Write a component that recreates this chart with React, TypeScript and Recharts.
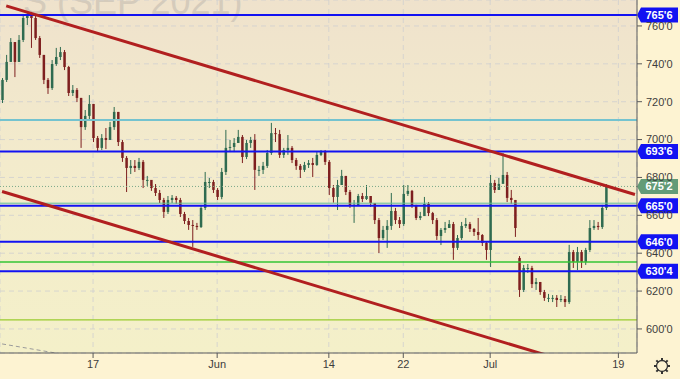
import React from "react";
import { ComposedChart, Bar, Line, XAxis, YAxis, CartesianGrid, ReferenceLine } from "recharts";

// ---- candle data (price in cents, one candle ≈ 1/3 trading day) ----
const OPEN = [
  720.9, 731.5, 741.0, 751.5, 741.0, 752.6, 764.2, 765.3, 764.2, 753.6,
  744.7, 731.5, 727.2, 739.9, 743.6, 746.2, 738.3, 724.6, 726.2, 722.0,
  706.6, 712.5, 718.8, 700.8, 695.6, 700.8, 699.8, 706.6, 714.6, 698.7,
  690.3, 685.0, 686.1, 685.0, 688.2, 678.7, 678.7, 674.4, 671.8, 668.1,
  661.8, 668.1, 669.2, 668.1, 660.7, 657.0, 654.9, 654.4, 653.8, 663.9,
  677.6, 677.6, 673.4, 669.7, 682.9, 695.6, 696.1, 698.2, 701.4, 690.8,
  698.2, 699.8, 684.0, 684.0, 686.1, 692.9, 703.4, 702.9, 691.9, 694.5,
  695.6, 689.2, 686.1, 684.0, 686.6, 687.6, 686.6, 691.9, 693.4, 688.2,
  674.4, 669.7, 676.0, 680.8, 672.3, 665.5, 665.5, 670.2, 668.6, 670.2,
  666.5, 657.5, 648.0, 652.3, 654.4, 662.3, 657.5, 655.4, 671.3, 672.9,
  665.5, 658.6, 659.6, 666.0, 661.2, 657.5, 649.1, 652.3, 653.3, 655.4,
  642.8, 648.0, 654.4, 655.4, 652.8, 651.2, 649.6, 645.4, 641.7, 677.1,
  673.4, 676.6, 681.3, 669.2, 668.1, 637.5, 620.6, 632.2, 632.2, 623.7,
  624.8, 619.5, 616.4, 616.4, 616.4, 615.3, 615.8, 614.2, 640.6, 635.4,
  640.6, 635.4, 641.7, 653.3, 654.4, 653.8, 663.9,
];
const HIGH = [
  732.5, 744.7, 753.6, 751.5, 755.2, 765.8, 767.4, 767.4, 766.3, 754.7,
  744.7, 732.5, 742.0, 748.4, 748.9, 747.3, 738.9, 728.8, 727.2, 722.0,
  715.6, 723.5, 718.8, 701.9, 702.9, 706.1, 709.3, 717.2, 714.6, 699.8,
  691.3, 689.2, 689.2, 690.3, 689.2, 680.8, 677.6, 676.5, 673.4, 669.2,
  670.2, 670.7, 670.2, 669.2, 661.8, 658.6, 657.5, 656.0, 665.5, 682.9,
  679.7, 678.7, 674.4, 685.0, 705.1, 699.8, 700.8, 705.1, 702.4, 699.8,
  701.4, 702.9, 686.1, 688.2, 694.5, 708.8, 706.1, 705.1, 695.6, 702.4,
  696.6, 690.3, 687.1, 688.2, 689.2, 690.3, 693.4, 694.5, 694.5, 689.2,
  676.0, 678.7, 684.0, 680.8, 673.4, 668.1, 671.3, 671.8, 676.0, 670.2,
  666.5, 658.6, 654.4, 657.5, 671.8, 663.9, 659.1, 676.0, 676.0, 673.4,
  665.5, 661.8, 669.7, 667.0, 661.8, 658.6, 653.3, 656.5, 657.5, 656.5,
  649.6, 656.5, 658.6, 656.5, 653.3, 658.6, 650.1, 645.9, 681.3, 678.7,
  679.7, 692.9, 682.9, 673.4, 668.1, 638.5, 633.8, 634.3, 633.3, 626.9,
  624.8, 620.6, 618.5, 617.9, 617.9, 617.9, 617.4, 644.4, 641.7, 643.3,
  641.7, 642.8, 657.5, 657.5, 656.5, 665.5, 676.5,
];
const LOW = [
  719.3, 730.4, 741.0, 733.0, 741.0, 751.5, 760.5, 748.4, 752.6, 743.1,
  729.3, 724.1, 726.2, 738.9, 742.0, 736.7, 723.0, 723.0, 719.8, 695.6,
  705.1, 710.3, 698.7, 693.4, 694.5, 695.0, 702.9, 705.1, 696.6, 688.2,
  672.3, 681.8, 682.9, 683.9, 674.4, 675.5, 672.9, 670.2, 666.5, 658.6,
  660.7, 666.5, 666.0, 659.1, 655.4, 652.3, 643.3, 652.3, 653.3, 662.8,
  674.4, 671.8, 668.1, 668.5, 681.3, 693.4, 693.4, 699.8, 687.6, 689.7,
  695.6, 673.4, 680.8, 681.8, 685.0, 691.9, 698.7, 690.3, 690.3, 691.9,
  687.6, 684.0, 679.7, 682.9, 685.0, 680.2, 686.1, 691.3, 686.6, 670.7,
  666.7, 662.8, 677.6, 670.7, 663.9, 656.0, 664.9, 667.0, 668.1, 664.4,
  655.4, 640.1, 647.0, 642.8, 652.3, 655.4, 653.3, 654.4, 670.2, 663.9,
  657.5, 657.5, 660.7, 659.6, 655.4, 647.0, 644.3, 650.7, 653.3, 636.5,
  641.7, 647.0, 653.3, 651.2, 649.1, 647.0, 643.8, 636.5, 632.7, 671.8,
  673.4, 677.1, 667.0, 666.0, 648.6, 616.9, 619.5, 629.6, 621.6, 620.6,
  618.0, 614.8, 614.2, 614.2, 611.6, 614.2, 611.6, 613.2, 632.2, 631.1,
  632.2, 633.8, 640.6, 652.3, 652.3, 652.8, 662.8,
];
const CLOSE = [
  731.5, 741.0, 751.5, 741.0, 752.6, 764.2, 765.3, 764.2, 753.6, 744.7,
  731.5, 727.2, 739.9, 743.6, 746.2, 738.3, 724.6, 726.2, 722.0, 706.6,
  712.5, 718.8, 700.8, 695.6, 700.8, 699.8, 706.6, 714.6, 698.7, 690.3,
  685.0, 686.1, 685.0, 688.2, 678.7, 678.7, 674.4, 671.8, 668.1, 661.8,
  668.1, 669.2, 668.1, 660.7, 657.0, 654.9, 654.4, 653.8, 663.9, 677.6,
  677.6, 673.4, 669.7, 682.9, 695.6, 696.1, 698.2, 701.4, 690.8, 698.2,
  699.8, 684.0, 684.0, 686.1, 692.9, 703.4, 702.9, 691.9, 694.5, 695.6,
  689.2, 686.1, 684.0, 686.6, 687.6, 686.6, 691.9, 693.4, 688.2, 674.4,
  669.7, 676.0, 680.8, 672.3, 665.5, 665.5, 670.2, 668.6, 670.2, 666.5,
  657.5, 648.0, 652.3, 654.4, 662.3, 657.5, 655.4, 671.3, 672.9, 665.5,
  658.6, 659.6, 666.0, 661.2, 657.5, 649.1, 652.3, 653.3, 655.4, 642.8,
  648.0, 654.4, 655.4, 652.8, 651.2, 649.6, 645.4, 641.7, 677.1, 673.4,
  676.6, 681.3, 669.2, 668.1, 653.3, 620.6, 632.2, 632.2, 623.7, 624.8,
  619.5, 616.4, 616.4, 616.4, 615.3, 615.8, 614.2, 640.6, 635.4, 640.6,
  635.4, 641.7, 653.3, 654.4, 653.8, 663.9, 675.25,
];
const EMPTY_SLOTS = 7; // empty space to the right of the last candle

// ---- axes ----
const TICK_INDEX = [22, 52, 79, 97, 118, 149];
const TICK_LABELS = ["17", "Jun", "14", "22", "Jul", "19"];
const PRICE_TICKS = [600, 620, 640, 660, 680, 700, 720, 740, 760];
const PRICE_DOMAIN = [587.3, 773.7];

// ---- drawn levels ----
const BLUE_LEVELS = [765.75, 693.75, 665, 646, 630.5];
const BLUE_LABELS = ["765'6", "693'6", "665'0", "646'0", "630'4"];
const LAST_PRICE = 675.25;
const LAST_LABEL = "675'2";
const LIGHT_BLUE_LEVEL = 710.4;
const TEAL_LEVEL = 666.4;
const GREEN_LEVEL = 635.3;
const LIME_LEVEL = 604.75;

// trend lines: [candle index, price]
const UPPER_TREND = [[1, 770.6], [153, 671.0]];
const LOWER_TREND = [[0, 672.6], [153, 572.1]];
const DASHED_CURVE = [[0, 592.1], [14, 586.9]];

const UP = "#2f6b50";
const DOWN = "#7e1f1f";
const BLUE = "#1212f2";
const RED = "#b11f1f";

const pick = (arr: number[][], i: number) => {
  const f = arr.find((p) => p[0] === i);
  return f ? f[1] : null;
};

const data = Array.from({ length: CLOSE.length + EMPTY_SLOTS }, (_, i) => {
  const row: any = { idx: i };
  if (i < CLOSE.length) {
    row.o = OPEN[i];
    row.h = HIGH[i];
    row.l = LOW[i];
    row.c = CLOSE[i];
    row.range = [LOW[i], HIGH[i]];
  }
  row.upper = pick(UPPER_TREND, i);
  row.lower = pick(LOWER_TREND, i);
  row.dashed = pick(DASHED_CURVE, i);
  return row;
});

const Candle = (props: any) => {
  const { x, y, width, height, payload } = props;
  if (!payload || payload.o == null) return null;
  const { o, h, l, c } = payload;
  const top = Math.min(y, y + height);
  const span = Math.abs(height);
  const pxPer = span / Math.max(h - l, 0.0001);
  const color = c >= o ? UP : DOWN;
  const cx = x + width / 2;
  const bodyTop = top + (h - Math.max(o, c)) * pxPer;
  const bodyH = Math.max(1, Math.abs(o - c) * pxPer);
  return (
    <g>
      <line x1={cx} x2={cx} y1={top} y2={top + span} stroke={color} strokeWidth={1} />
      <rect x={cx - 1.25} y={bodyTop} width={2.5} height={bodyH} fill={color} />
    </g>
  );
};

const Tag = (props: any) => {
  const { viewBox, text, bg } = props;
  if (!viewBox) return null;
  const x = viewBox.x + viewBox.width;
  const y = viewBox.y;
  return (
    <g>
      <path d={`M${x} ${y} L${x + 4} ${y - 7.5} H${x + 41} V${y + 7.5} H${x + 4} Z`} fill={bg} />
      <text
        x={x + 22}
        y={y + 4}
        textAnchor="middle"
        fill="#ffffff"
        fontSize={11}
        fontWeight="bold"
        fontFamily="Liberation Sans, Arial, sans-serif"
      >
        {text}
      </text>
    </g>
  );
};

const Gear = () => (
  <svg width={20} height={20} viewBox="-10 -10 20 20" style={{ position: "absolute", left: 652, top: 356 }}>
    {[0, 45, 90, 135, 180, 225, 270, 315].map((a) => (
      <line
        key={a}
        x1={0}
        y1={-5}
        x2={0}
        y2={-8}
        stroke="#333"
        strokeWidth={2}
        transform={`rotate(${a})`}
      />
    ))}
    <circle cx={0} cy={0} r={5.5} fill="none" stroke="#333" strokeWidth={1.3} />
  </svg>
);

export default function App() {
  return (
    <div
      style={{
        position: "absolute",
        left: 0,
        top: 0,
        width: 680,
        height: 379,
        background: "#fdf3d2",
        overflow: "hidden",
        fontFamily: "Liberation Sans, Arial, sans-serif",
      }}
    >
      <div
        style={{
          position: "absolute",
          left: 0,
          top: 0,
          width: 637,
          height: 353,
          background: "linear-gradient(#efe2cc 0%, #f3ebcc 45%, #f4f0c9 100%)",
        }}
      />
      <svg width={637} height={353} style={{ position: "absolute", left: 0, top: 0 }}>
        <text x={23} y={14} fontSize={36} fill="#d5cbbb" fontFamily="Liberation Sans, Arial, sans-serif">
          S (SEP 2021)
        </text>
      </svg>
      <div style={{ position: "absolute", left: 0, top: 0 }}>
        <ComposedChart width={680} height={379} data={data} margin={{ top: 0, right: 0, bottom: 0, left: 0 }}>
          <CartesianGrid stroke="#cfd0cf" strokeDasharray="5 4" strokeOpacity={0.8} />
          <XAxis
            dataKey="idx"
            type="category"
            ticks={TICK_INDEX}
            interval={0}
            tickFormatter={(v: any) => TICK_LABELS[TICK_INDEX.indexOf(Number(v))] ?? ""}
            height={26}
            tickSize={5}
            tickMargin={2}
            stroke="#5a5a5a"
            tick={{ fontSize: 11, fill: "#3d3d3d" }}
          />
          <YAxis
            orientation="right"
            width={43}
            domain={PRICE_DOMAIN}
            allowDataOverflow
            ticks={PRICE_TICKS}
            interval={0}
            tickFormatter={(v: any) => `${v}'0`}
            tickSize={5}
            tickMargin={4}
            stroke="#5a5a5a"
            tick={{ fontSize: 11, fill: "#3d3d3d", textAnchor: "start" }}
          />
          <Bar dataKey="range" barSize={3} shape={<Candle />} isAnimationActive={false} />
          <ReferenceLine y={LIGHT_BLUE_LEVEL} stroke="#74c3cf" strokeWidth={2} />
          <ReferenceLine y={TEAL_LEVEL} stroke="#62bd9c" strokeWidth={1} />
          <ReferenceLine y={GREEN_LEVEL} stroke="#35c435" strokeWidth={1.5} />
          <ReferenceLine y={LIME_LEVEL} stroke="#9acb2e" strokeWidth={1.3} />
          <ReferenceLine
            y={LAST_PRICE}
            stroke="#7aa88a"
            strokeDasharray="1 2"
            strokeWidth={1}
            label={<Tag text={LAST_LABEL} bg="#639b77" />}
          />
          {BLUE_LEVELS.map((lv, k) => (
            <ReferenceLine
              key={lv}
              y={lv}
              stroke={BLUE}
              strokeWidth={2}
              label={<Tag text={BLUE_LABELS[k]} bg={BLUE} />}
            />
          ))}
          <Line
            dataKey="upper"
            stroke={RED}
            strokeWidth={3}
            dot={false}
            activeDot={false}
            connectNulls
            isAnimationActive={false}
          />
          <Line
            dataKey="lower"
            stroke={RED}
            strokeWidth={3}
            dot={false}
            activeDot={false}
            connectNulls
            isAnimationActive={false}
          />
          <Line
            dataKey="dashed"
            stroke="#9b9b9b"
            strokeWidth={1}
            strokeDasharray="4 3"
            dot={false}
            activeDot={false}
            connectNulls
            isAnimationActive={false}
          />
        </ComposedChart>
      </div>
      <Gear />
    </div>
  );
}
